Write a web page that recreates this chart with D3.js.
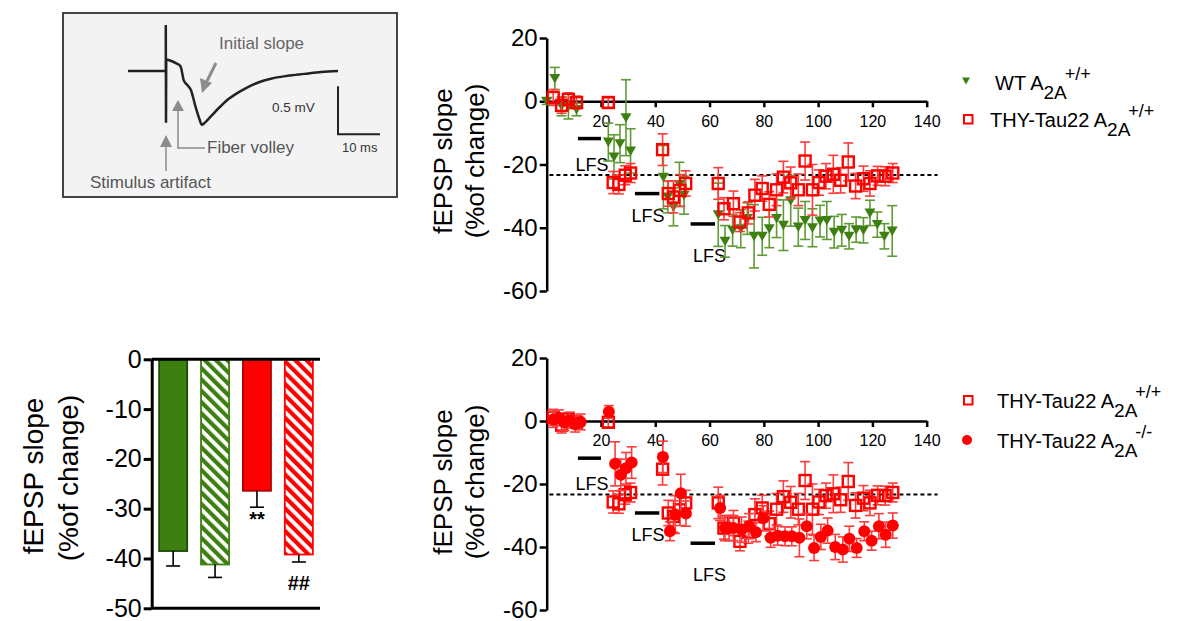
<!DOCTYPE html>
<html>
<head>
<meta charset="utf-8">
<title>fEPSP slope</title>
<script src="https://d3js.org/d3.v7.min.js"></script>
<style>
  body { margin: 0; background: #fff; }
  svg text { font-family: "Liberation Sans", Arial, sans-serif; }
</style>
</head>
<body>
<div id="chart"></div>
<script>
// ---- data ----
// time (min) / fEPSP slope (% of change) / SEM
var wtT = [0, 3, 5.5, 8, 11, 22.7, 24.8, 27, 29.2, 30.9, 43, 44.6, 46.7, 48.9, 50.6, 63.2, 65.7, 68.5, 71.5, 73.9, 76.4, 79.4, 82, 84.7, 87.2, 89.9, 92.7, 95.2, 97.9, 100.7, 103.2, 105.9, 108.7, 111.4, 114, 116.7, 119.1, 121.8, 124.4, 127.3];
var wtV = [0, 7.2, -1.6, -1.6, -2.6, -12.9, -17.6, -13.4, -5.2, -15.7, -24, -30.3, -33.4, -26.3, -29.7, -35.9, -44.3, -40.8, -40.3, -37.1, -42.7, -42.7, -40.3, -37.1, -39.2, -31.5, -39.8, -37.7, -40, -37.9, -37.7, -41.4, -40.8, -42.7, -40.6, -40.8, -35.3, -39, -42.7, -41];
var wtE = [1, 3.5, 3, 4, 2, 6, 7, 6, 12, 7, 10, 5, 6, 7, 6, 10, 5, 5, 6, 5, 10, 6, 6, 6, 8, 8, 6, 6, 6, 5, 6, 5, 5, 4, 4, 4, 4, 4, 4, 8];

var tauT = [2.4, 5.5, 8, 11, 22.7, 24.5, 26.6, 28.9, 30.9, 42.7, 44.8, 46.7, 49.1, 51.2, 63.2, 65.3, 68.8, 71.2, 74.3, 76.7, 79.4, 82, 84.7, 87.2, 89.9, 92.7, 95.2, 97.9, 100.3, 102.9, 105.6, 108.3, 111.1, 113.8, 116.7, 119.1, 121.9, 124.7, 127.5];
var tauV = [1.2, -1.3, 0.6, -0.4, -0.4, -25.7, -26.3, -23.4, -22.7, -15.3, -29.2, -30.3, -28.2, -26, -26, -34, -32.4, -38.2, -35.3, -29.7, -27.6, -32.6, -28, -24, -25.8, -28, -18.9, -28, -25.7, -23.7, -23.1, -25, -19.2, -26.8, -24.5, -26, -23.6, -23.7, -22.7];
var tauE = [2.5, 2.5, 2, 2, 1.5, 3.5, 3, 3, 3, 5, 4, 5, 5, 4, 5, 3.5, 4, 3, 3.5, 5, 4, 4, 5, 5, 5, 5, 6, 8, 4, 4, 6, 4, 6, 4, 4, 4, 3, 3, 3];

var koT = [2.4, 4.5, 6.5, 8.5, 10.5, 12.5, 22.9, 25.2, 27.3, 29.2, 31.3, 42.8, 45.4, 47.3, 49.4, 51.3, 63.9, 65.7, 67.2, 68.8, 71.8, 74.5, 77.1, 79.8, 82.5, 85.1, 87.8, 90.3, 93.1, 95.8, 98.5, 101, 103.5, 106.3, 109.1, 111.5, 114.2, 117, 119.7, 122.4, 124.9, 127.5];
var koV = [0.5, 1, -0.5, 0.3, -1, -0.3, 2.9, -13.6, -17.1, -15, -13.2, -11.4, -35, -29.7, -22.9, -29.4, -27.6, -34, -34, -34, -34.5, -33.4, -35.3, -30.9, -37.1, -36.4, -36.6, -36.6, -37.1, -33.4, -40.3, -36.8, -34.8, -40, -40.8, -37.4, -40.3, -35, -38, -33.4, -36.1, -33.2];
var koE = [2.5, 2.5, 2.5, 2.5, 2.5, 2.5, 2, 7, 5, 5, 5, 5, 3, 6, 6, 4, 4, 4, 4, 4, 4, 4, 3, 4, 3, 3, 3, 3, 6, 4, 4, 4, 4, 4, 4, 4, 3, 3, 3, 4, 4, 4];

var refLevel = -23.3;            // dashed reference line
var lfsStart = [11.5, 32.5, 53];
var lfsEnd = [20, 41.5, 62];
var lfsLevel = [-11.8, -29.2, -38.8];
var lfsTextT = [16.7, 37.3, 60];
var lfsTextV = [-20, -36, -48.7];

var xTicks = [20, 40, 60, 80, 100, 120, 140];
var yTicks = [-60, -40, -20, 0, 20];

// summary bars
var barGroups = ["WT A2A+/+", "WT A2A-/-", "THY-Tau22 A2A+/+", "THY-Tau22 A2A-/-"];
var barMeans = [-38.5, -41.2, -26.4, -39.2];
var barSem = [3, 2.6, 3.3, 1.5];
var barMarks = ["", "", "**", "##"];
var barTicks = [0, -10, -20, -30, -40, -50];

// example trace for the inset (ms, mV from baseline)
var traceMs = [0, 9, 9, 9.05, 9.1, 10, 11.5, 12.5, 13.3, 14.2, 15, 16, 17, 17.6, 18.5, 20, 22, 24, 26, 28, 31, 34, 38, 42, 46, 50];
var traceMv = [0, 0, 0.48, -0.54, 0.12, 0.11, 0.08, 0.05, -0.1, -0.15, -0.2, -0.36, -0.5, -0.56, -0.53, -0.46, -0.37, -0.29, -0.23, -0.18, -0.12, -0.08, -0.05, -0.03, -0.01, 0];

var green = "#3e7f12", greenErr = "#5f9a35";
var red = "#ff0000", redErr = "#ff3b3b";

var svg = d3.select("#chart").append("svg")
    .attr("width", 1182)
    .attr("height", 621);

svg.append("rect").attr("width", 1182).attr("height", 621).attr("fill", "#fff");

function zip(t, v, e) {
    return t.map(function (d, i) { return { t: d, v: v[i], e: e[i] }; });
}

// ---- time course panels ----
function drawPanel(top, bottom, layers) {
    var x = d3.scaleLinear().domain([0, 140]).range([546.7, 926.7]);
    var y = d3.scaleLinear().domain([-60, 20]).range([bottom, top]);
    var g = svg.append("g");

    var ax = g.append("g")
        .attr("transform", "translate(" + x(0) + ",0)")
        .call(d3.axisLeft(y).tickValues(yTicks).tickSize(7).tickSizeOuter(0).tickPadding(2).tickFormat(String));
    ax.selectAll("text").attr("font-size", 24).attr("fill", "#000");

    var axb = g.append("g")
        .attr("transform", "translate(0," + y(0) + ")")
        .call(d3.axisBottom(x).tickValues(xTicks).tickSize(6).tickSizeOuter(0).tickPadding(8));
    axb.selectAll("text").attr("font-size", 16).attr("fill", "#000");

    g.selectAll(".domain, .tick line").attr("stroke", "#000").attr("stroke-width", 2.5);

    g.append("line")
        .attr("x1", x(1)).attr("x2", x(144))
        .attr("y1", y(refLevel)).attr("y2", y(refLevel))
        .attr("stroke", "#000").attr("stroke-width", 2).attr("stroke-dasharray", "4,3");

    lfsStart.forEach(function (s, i) {
        g.append("line")
            .attr("x1", x(s)).attr("x2", x(lfsEnd[i]))
            .attr("y1", y(lfsLevel[i])).attr("y2", y(lfsLevel[i]))
            .attr("stroke", "#000").attr("stroke-width", 3.5);
        g.append("text")
            .attr("x", x(lfsTextT[i])).attr("y", y(lfsTextV[i]))
            .attr("dy", "0.36em")
            .attr("text-anchor", "middle")
            .attr("font-size", 18)
            .text("LFS");
    });

    layers.forEach(function (L) {
        var pts = zip(L.t, L.v, L.e);
        var eg = g.append("g").attr("stroke", L.errColor).attr("stroke-width", 1.6);
        pts.forEach(function (d) {
            var cx = x(d.t);
            eg.append("line").attr("x1", cx).attr("x2", cx).attr("y1", y(d.v - d.e)).attr("y2", y(d.v + d.e));
            eg.append("line").attr("x1", cx - 5).attr("x2", cx + 5).attr("y1", y(d.v - d.e)).attr("y2", y(d.v - d.e));
            eg.append("line").attr("x1", cx - 5).attr("x2", cx + 5).attr("y1", y(d.v + d.e)).attr("y2", y(d.v + d.e));
        });
        var mg = g.append("g");
        pts.forEach(function (d) {
            var tr = "translate(" + x(d.t) + "," + y(d.v) + ")";
            if (L.shape === "tri") {
                mg.append("path").attr("transform", tr).attr("d", "M-5.5,-4.5L5.5,-4.5L0,5Z").attr("fill", L.color);
            } else if (L.shape === "sq") {
                mg.append("rect").attr("transform", tr).attr("x", -5.5).attr("y", -5.5).attr("width", 11).attr("height", 11)
                    .attr("fill", "none").attr("stroke", L.color).attr("stroke-width", 2.4);
            } else {
                mg.append("circle").attr("transform", tr).attr("r", 6).attr("fill", L.color);
            }
        });
    });
}

function axisTitle(xBase, yMid, size) {
    var t = svg.append("g").attr("font-size", size);
    t.append("text").attr("transform", "translate(" + xBase + "," + yMid + ") rotate(-90)")
        .attr("text-anchor", "middle").text("fEPSP slope");
    t.append("text").attr("transform", "translate(" + (xBase + 32) + "," + yMid + ") rotate(-90)")
        .attr("text-anchor", "middle").text("(%of change)");
}

function legendText(x, y, pre, sup) {
    var t = svg.append("text").attr("x", x).attr("y", y).attr("font-size", 20);
    t.append("tspan").text(pre + "A");
    t.append("tspan").attr("dy", 9).attr("font-size", 19).text("2A");
    t.append("tspan").attr("dy", -19).attr("dx", -2).attr("font-size", 18).text(sup);
}

drawPanel(38, 291, [
    { t: wtT, v: wtV, e: wtE, color: green, errColor: greenErr, shape: "tri" },
    { t: tauT, v: tauV, e: tauE, color: red, errColor: redErr, shape: "sq" }
]);
drawPanel(358, 610, [
    { t: tauT, v: tauV, e: tauE, color: red, errColor: redErr, shape: "sq" },
    { t: koT, v: koV, e: koE, color: red, errColor: redErr, shape: "dot" }
]);
axisTitle(452, 161, 26);
axisTitle(452, 482, 26);

// legends
svg.append("path").attr("transform", "translate(966,81)").attr("d", "M-4,-3.5L4,-3.5L0,3.5Z").attr("fill", green);
legendText(995, 90, "WT ", "+/+");
svg.append("rect").attr("x", 964).attr("y", 115).attr("width", 8.5).attr("height", 8.5)
    .attr("fill", "none").attr("stroke", red).attr("stroke-width", 2);
legendText(990, 127, "THY-Tau22 ", "+/+");
svg.append("rect").attr("x", 964).attr("y", 396).attr("width", 8.5).attr("height", 8.5)
    .attr("fill", "none").attr("stroke", red).attr("stroke-width", 2);
legendText(997, 408, "THY-Tau22 ", "+/+");
svg.append("circle").attr("cx", 967).attr("cy", 440).attr("r", 5).attr("fill", red);
legendText(997, 448, "THY-Tau22 ", "-/-");

// ---- bar chart ----
var by = d3.scaleLinear().domain([-50, 0]).range([608.3, 359.3]);
var bx = d3.scaleBand().domain(barGroups).range([152, 320]).paddingInner(0.33).paddingOuter(0.17);

var defs = svg.append("defs");
function hatch(id, col) {
    var p = defs.append("pattern").attr("id", id)
        .attr("patternUnits", "userSpaceOnUse")
        .attr("width", 8).attr("height", 8)
        .attr("patternTransform", "rotate(-45)");
    p.append("rect").attr("width", 8).attr("height", 8).attr("fill", "#fff");
    p.append("rect").attr("width", 4.2).attr("height", 8).attr("fill", col);
}
hatch("hG", green);
hatch("hR", red);

var barFill = [green, "url(#hG)", red, "url(#hR)"];
var barEdge = ["#1f4a06", green, "#b00000", red];

var bg = svg.append("g");
bg.selectAll("rect.bar")
    .data(barGroups)
    .enter().append("rect")
    .attr("class", "bar")
    .attr("x", function (d) { return bx(d); })
    .attr("y", by(0))
    .attr("width", bx.bandwidth())
    .attr("height", function (d, i) { return by(barMeans[i]) - by(0); })
    .attr("fill", function (d, i) { return barFill[i]; })
    .attr("stroke", function (d, i) { return barEdge[i]; })
    .attr("stroke-width", 1.8);

barGroups.forEach(function (d, i) {
    var cx = bx(d) + bx.bandwidth() / 2;
    var lo = barMeans[i] - barSem[i];
    bg.append("line").attr("x1", cx).attr("x2", cx).attr("y1", by(barMeans[i])).attr("y2", by(lo))
        .attr("stroke", "#000").attr("stroke-width", 1.6);
    bg.append("line").attr("x1", cx - 7).attr("x2", cx + 7).attr("y1", by(lo)).attr("y2", by(lo))
        .attr("stroke", "#000").attr("stroke-width", 1.6);
    if (barMarks[i]) {
        bg.append("text").attr("x", cx).attr("y", by(lo) + (barMarks[i] === "**" ? 19 : 28))
            .attr("text-anchor", "middle").attr("font-size", 20).attr("font-weight", "bold")
            .text(barMarks[i]);
    }
});

var bax = svg.append("g")
    .attr("transform", "translate(151.7,0)")
    .call(d3.axisLeft(by).tickValues(barTicks).tickSize(8).tickSizeOuter(0).tickPadding(2).tickFormat(String));
bax.selectAll("text").attr("font-size", 25).attr("fill", "#000");
bax.selectAll(".domain, .tick line").attr("stroke", "#000").attr("stroke-width", 3);
svg.append("line").attr("x1", 151.7).attr("x2", 320).attr("y1", by(0)).attr("y2", by(0))
    .attr("stroke", "#000").attr("stroke-width", 3);
svg.append("line").attr("x1", 151.7).attr("x2", 320).attr("y1", by(-50)).attr("y2", by(-50))
    .attr("stroke", "#000").attr("stroke-width", 3);

var bt = svg.append("g").attr("font-size", 28);
bt.append("text").attr("transform", "translate(43,476) rotate(-90)").attr("text-anchor", "middle").text("fEPSP slope");
bt.append("text").attr("transform", "translate(78,478) rotate(-90)").attr("text-anchor", "middle").text("(%of change)");

// ---- inset with example trace ----
var ins = svg.append("g");
ins.append("rect").attr("x", 63).attr("y", 13).attr("width", 334).attr("height", 184)
    .attr("fill", "#f3f3f3").attr("stroke", "#444").attr("stroke-width", 2);

var trX = d3.scaleLinear().domain([0, 50]).range([128, 338]);
var trY = d3.scaleLinear().domain([0, -0.5]).range([71, 119]);

// the trace: straight through the artifact, smooth afterwards
var pts = traceMs.map(function (d, i) { return [trX(d), trY(traceMv[i])]; });
ins.append("path")
    .attr("d", d3.line().curve(d3.curveLinear)(pts.slice(0, 5)))
    .attr("fill", "none").attr("stroke", "#222").attr("stroke-width", 2.5);
ins.append("path")
    .attr("d", d3.line().curve(d3.curveMonotoneX)(pts.slice(4)))
    .attr("fill", "none").attr("stroke", "#222").attr("stroke-width", 2.5);

// scale bar: 10 ms, 0.5 mV
ins.append("path")
    .attr("d", "M" + trX(50) + "," + trY(-0.16) + "V" + trY(-0.66) + "H" + trX(60))
    .attr("fill", "none").attr("stroke", "#222").attr("stroke-width", 2);
ins.append("text").attr("x", 272).attr("y", 112).attr("font-size", 13.5).attr("fill", "#333").text("0.5 mV");
ins.append("text").attr("x", 342).attr("y", 152).attr("font-size", 13).attr("fill", "#333").text("10 ms");

var gray = "#8c8c8c";
// initial slope arrow
ins.append("line").attr("x1", 216).attr("y1", 63).attr("x2", 207).attr("y2", 81)
    .attr("stroke", gray).attr("stroke-width", 3);
ins.append("path").attr("d", "M202,93L200,78L212,83Z").attr("fill", gray);
ins.append("text").attr("x", 219).attr("y", 49).attr("font-size", 17).attr("fill", "#666").text("Initial slope");
// fiber volley
ins.append("path").attr("d", "M178,100L184,111L172,111Z").attr("fill", gray);
ins.append("path").attr("d", "M178,111V148H205").attr("fill", "none").attr("stroke", gray).attr("stroke-width", 1.5);
ins.append("text").attr("x", 207).attr("y", 153).attr("font-size", 17).attr("fill", "#555").text("Fiber volley");
// stimulus artifact
ins.append("path").attr("d", "M166,135L172,147L160,147Z").attr("fill", gray);
ins.append("line").attr("x1", 166).attr("y1", 147).attr("x2", 166).attr("y2", 171)
    .attr("stroke", gray).attr("stroke-width", 1.5);
ins.append("text").attr("x", 90).attr("y", 188).attr("font-size", 17).attr("fill", "#555").text("Stimulus artifact");
</script>
</body>
</html>
